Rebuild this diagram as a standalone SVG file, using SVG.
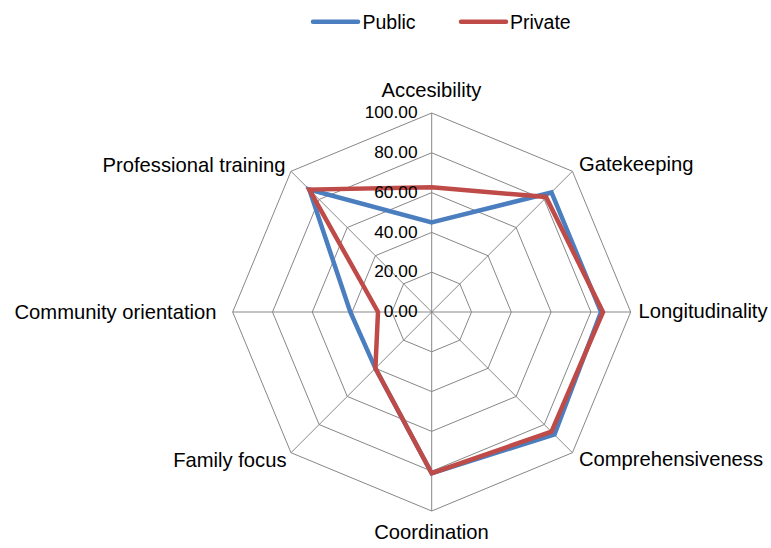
<svg xmlns="http://www.w3.org/2000/svg" width="771" height="548" viewBox="0 0 771 548">
<style>
text{font-family:"Liberation Sans",Arial,Helvetica,sans-serif;fill:#000}
.leg{font-size:19.5px}
.cat{font-size:20.2px}
.ax{font-size:17.3px;text-anchor:end}
.grid{fill:none;stroke:#878787;stroke-width:1}
.ser{fill:none;stroke-width:4.5;stroke-linejoin:miter}
.pub{stroke:#4A7EBF}
.pri{stroke:#BF4B48}
</style>
<rect width="771" height="548" fill="#fff"/>
<g id="legend">
<line x1="313" y1="21.7" x2="358" y2="21.7" class="pub" stroke-width="4.5" stroke-linecap="round"/>
<text x="362.5" y="28.5" class="leg">Public</text>
<line x1="461" y1="21.7" x2="506" y2="21.7" class="pri" stroke-width="4.5" stroke-linecap="round"/>
<text x="510" y="28.5" class="leg">Private</text>
</g>
<g id="grid">
<polygon class="grid" points="431.7,272.2 459.84,283.86 471.5,312 459.84,340.14 431.7,351.8 403.56,340.14 391.9,312 403.56,283.86"/>
<polygon class="grid" points="431.7,232.4 487.99,255.71 511.3,312 487.99,368.29 431.7,391.6 375.41,368.29 352.1,312 375.41,255.71"/>
<polygon class="grid" points="431.7,192.6 516.13,227.57 551.1,312 516.13,396.43 431.7,431.4 347.27,396.43 312.3,312 347.27,227.57"/>
<polygon class="grid" points="431.7,152.8 544.27,199.43 590.9,312 544.27,424.57 431.7,471.2 319.13,424.57 272.5,312 319.13,199.43"/>
<polygon class="grid" points="431.7,113 572.41,171.29 630.7,312 572.41,452.71 431.7,511 290.99,452.71 232.7,312 290.99,171.29"/>
<path class="grid" d="M431.7,312L431.7,113M431.7,312L572.41,171.29M431.7,312L630.7,312M431.7,312L572.41,452.71M431.7,312L431.7,511M431.7,312L290.99,452.71M431.7,312L232.7,312M431.7,312L290.99,171.29"/>
</g>
<g id="series">
<polygon id="public" class="ser pub" points="431.7,222.4 551.5,192.5 601,312 554.5,434.4 431.7,473.2 375.4,368.3 350.3,312 309.3,189.6"/>
<polygon id="private" class="ser pri" points="431.7,187.3 546,197 603,312 551.5,431.6 431.7,473.2 375.4,368.3 378,312 309.3,189.6"/>
</g>
<g id="axis-labels">
<text class="ax" x="417.5" y="118">100.00</text>
<text class="ax" x="417.5" y="158">80.00</text>
<text class="ax" x="417.5" y="197.7">60.00</text>
<text class="ax" x="417.5" y="237.5">40.00</text>
<text class="ax" x="417.5" y="277.3">20.00</text>
<text class="ax" x="417.5" y="317">0.00</text>
</g>
<g id="category-labels">
<text class="cat" x="431.5" y="96.5" text-anchor="middle">Accesibility</text>
<text class="cat" x="579" y="170.7">Gatekeeping</text>
<text class="cat" x="638.5" y="318.3">Longitudinality</text>
<text class="cat" x="579" y="465.7">Comprehensiveness</text>
<text class="cat" x="431.5" y="538.5" text-anchor="middle">Coordination</text>
<text class="cat" x="286.5" y="466.5" text-anchor="end">Family focus</text>
<text class="cat" x="216.5" y="318.5" text-anchor="end">Community orientation</text>
<text class="cat" x="285.5" y="171.5" text-anchor="end">Professional training</text>
</g>
</svg>
